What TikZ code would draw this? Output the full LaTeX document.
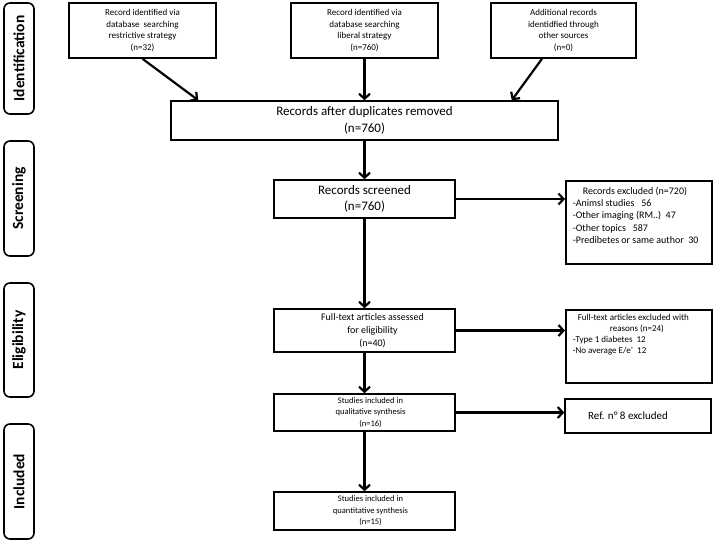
\documentclass[tikz,border=0pt]{standalone}
\usepackage{fontspec}
\setmainfont{Carlito}
\usetikzlibrary{arrows.meta,positioning}

\begin{document}
\begin{tikzpicture}[x=1pt, y=1pt,
  stage/.style={draw, line width=1.6pt, rounded corners=6pt, rotate=90,
                minimum width=#1, minimum height=30pt, inner sep=0pt,
                font=\fontsize{15.5}{18}\selectfont\bfseries},
  srcbox/.style={draw, line width=1.6pt, minimum width=147pt, minimum height=55pt,
                 align=center, inner sep=2pt, font=\fontsize{9}{11.5}\selectfont},
  box/.style={draw, line width=1.6pt, minimum width=181pt, align=center, inner sep=2pt},
  exbox/.style={draw, line width=1.6pt, anchor=north west, inner xsep=7pt, inner ysep=0pt},
  arr/.style={-{Straight Barb[length=5pt,width=11pt]}, line width=2.2pt}
]
\useasboundingbox (0,0) rectangle (716,-542);

% -- stages --------------------------------------------------
\node[stage=111pt] (sid) at (19,-58.5) {Identification};
\node[stage=115pt] (sscr) at (19,-198.5) {Screening};
\node[stage=114pt] (selig) at (19,-340) {Eligibility};
\node[stage=115pt] (sinc) at (19,-481.5) {Included};

% -- identification --------------------------------------------
\node[srcbox] (id1) at (142.5,-30.5) {Record identified via\\database\ \ searching\\restrictive strategy\\(n=32)};
\node[srcbox] (id2) at (364.5,-30.5) {Record identified via\\database searching\\liberal strategy\\(n=760)};
\node[srcbox, minimum width=145pt] (id3) at (563.5,-30.5) {Additional records\\identidfied through\\other sources\\(n=0)};
\node[box, minimum width=387pt, minimum height=39pt, font=\fontsize{13}{17}\selectfont] (dup) at (364.5,-120.5)
  {Records after duplicates removed\\(n=760)};

% -- screening -----------------------------------------------
\node[box, minimum height=38pt, font=\fontsize{13}{16}\selectfont] (scr) at (364.5,-199) {Records screened\\(n=760)};
\node[exbox, font=\fontsize{10}{12.3}\selectfont] (exc1) at (565,-180)
  {\parbox[c][83pt][t]{132pt}{\vspace*{6pt}\raggedright
   \hspace*{10pt}Records excluded (n=720)\\
   -Animsl studies\ \ \ 56\\
   -Other imaging (RM..)\ \ 47\\
   -Other topics\ \ \ 587\\
   -Predibetes or same author\ \ 30}};

% -- eligibility ---------------------------------------------
\node[box, minimum height=43pt, font=\fontsize{10}{13}\selectfont] (full) at (364.5,-330.5)
  {\hspace*{16pt}Full-text articles assessed\\\hspace*{16pt}for eligibility\\\hspace*{16pt}(n=40)};
\node[exbox, font=\fontsize{9}{11}\selectfont] (exc2) at (565,-309)
  {\parbox[c][73pt][t]{132pt}{\vspace*{4pt}\raggedright
   \hspace*{5pt}Full-text articles excluded with\\
   \hspace*{37pt}reasons (n=24)\\
   -Type 1 diabetes\ \ 12\\
   -No average E/e'\ \ 12}};
\node[box, minimum height=37pt, font=\fontsize{8.5}{11.5}\selectfont] (qual) at (364.5,-412.5)
  {\hspace*{12pt}Studies included in\\\hspace*{12pt}qualitative synthesis\\\hspace*{12pt}(n=16)};
\node[draw, line width=1.6pt, minimum width=146pt, minimum height=34pt, font=\fontsize{11}{13}\selectfont] (exc3) at (638,-416)
  {Ref. n° 8 excluded\hspace*{20pt}};

% -- included ------------------------------------------------
\node[box, minimum height=38pt, font=\fontsize{8.5}{11.5}\selectfont] (quant) at (364.5,-511)
  {\hspace*{12pt}Studies included in\\\hspace*{12pt}quantitative synthesis\\\hspace*{12pt}(n=15)};

% -- arrows --------------------------------------------------
\draw[arr] (id1.south) -- ([xshift=28pt]dup.north west);
\draw[arr] (id2.south) -- (dup.north);
\draw[arr] ([xshift=-21.5pt]id3.south) -- ([xshift=-47pt]dup.north east);
\draw[arr] (dup) -- (scr);
\draw[arr] (scr) -- (full);
\draw[arr] (full) -- (qual);
\draw[arr] (qual) -- (quant);
\draw[arr] (scr.east) -- (scr.east -| exc1.west);
\draw[arr] (full.east) -- (full.east -| exc2.west);
\draw[arr] (qual.east) -- (qual.east -| exc3.west);
\end{tikzpicture}
\end{document}
